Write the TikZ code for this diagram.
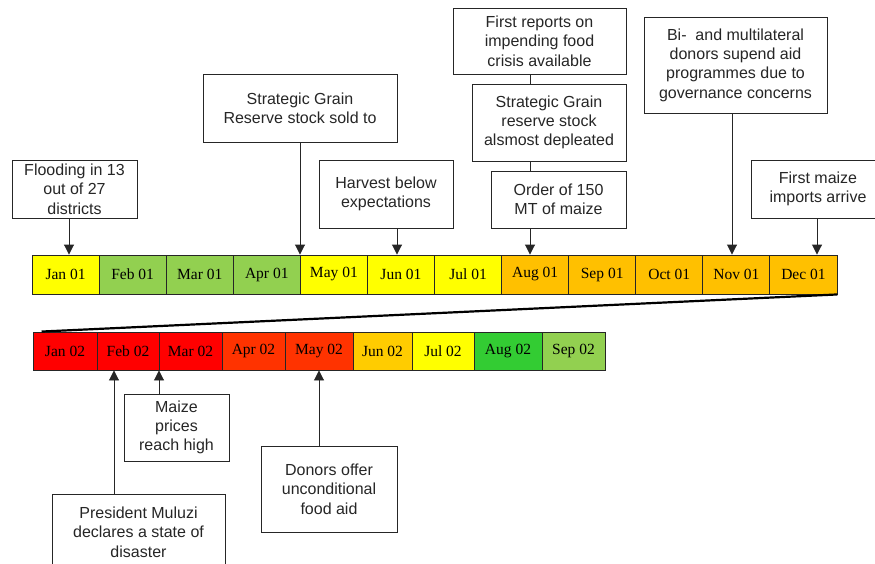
\documentclass[tikz,border=0pt]{standalone}
\usepackage{fontspec}
\setmainfont{Liberation Sans}
\newfontfamily\monthfont{Liberation Serif}
\usetikzlibrary{arrows.meta}
\definecolor{cyel}{HTML}{FFFF00}
\definecolor{cgrn}{HTML}{92D050}
\definecolor{corg}{HTML}{FFC000}
\definecolor{cred}{HTML}{FF0000}
\definecolor{cred2}{HTML}{FF3300}
\definecolor{cjun}{HTML}{FFCC00}
\definecolor{cgrn2}{HTML}{33CC33}
\tikzset{
  evbox/.style={draw=black!85, line width=0.9pt, fill=white, align=center, inner sep=0pt,
    font=\fontsize{16}{19.3}\selectfont, text=black!85},
  cell/.style={draw=black!85, line width=0.9pt, inner sep=0pt, font=\monthfont\fontsize{15.5}{16}\selectfont},
  arr/.style={draw=black!85, line width=0.9pt, -{Triangle[length=10pt,width=10pt]}},
  conn/.style={draw=black!85, line width=0.9pt},
}
\begin{document}
\begin{tikzpicture}[x=1pt,y=-1pt]
\clip (0,0) rectangle (875,564);
\fill[white] (0,0) rectangle (875,564);
% top row
\foreach \n/\lab/\col [count=\i from 0] in {jana/Jan 01/cyel, feba/Feb 01/cgrn, mara/Mar 01/cgrn, apra/Apr 01/cgrn, maya/May 01/cyel, juna/Jun 01/cyel, jula/Jul 01/cyel, auga/Aug 01/corg, sepa/Sep 01/corg, octa/Oct 01/corg, nova/Nov 01/corg, deca/Dec 01/corg}{
  \node[cell, fill=\col, minimum width=67.08pt, minimum height=39pt] (\n) at ({32+67.08*\i+33.54},274.5) {\lab};
}
% bottom row
\foreach \n/\lab/\col/\xa/\xb in {janb/Jan 02/cred/33/97, febb/Feb 02/cred/97/159, marb/Mar 02/cred/159/222, aprb/Apr 02/cred2/222/285, mayb/May 02/cred2/285/353, junb/Jun 02/cjun/353/412, julb/Jul 02/cyel/412/474, augb/Aug 02/cgrn2/474/542, sepb/Sep 02/cgrn/542/605}{
  \node[cell, fill=\col, minimum width={(\xb-\xa)*1pt}, minimum height=38pt] (\n) at ({(\xa+\xb)/2},351) {\lab};
}
% link between rows
\draw[black, line width=2.2pt] (deca.south east) -- ([xshift=9pt]janb.north west);
% top event boxes
\node[evbox, minimum width=125pt, minimum height=58pt] (flood) at (74.5,189) {Flooding in 13\\out of 27\\districts};
\node[evbox, minimum width=194pt, minimum height=68pt] (sgr) at (300,108) {Strategic Grain\\Reserve stock sold to};
\node[evbox, minimum width=134pt, minimum height=68pt] (harv) at (386,194) {Harvest below\\expectations};
\node[evbox, minimum width=173pt, minimum height=66pt] (rep) at (539.5,41) {First reports on\\impending food\\crisis available};
\node[evbox, minimum width=154pt, minimum height=77pt] (depl) at (549,122.5) {Strategic Grain\\reserve stock\\alsmost depleated};
\node[evbox, minimum width=135pt, minimum height=57pt] (order) at (558.5,199.5) {Order of 150\\MT of maize};
\node[evbox, minimum width=183pt, minimum height=96pt] (bi) at (735.5,65) {Bi-\ \ and multilateral\\donors supend aid\\programmes due to\\governance concerns};
\node[evbox, minimum width=134pt, minimum height=58pt] (imp) at (818,189) {First maize\\imports arrive};
% bottom event boxes
\node[evbox, minimum width=105pt, minimum height=67pt] (price) at (176.5,427.5) {Maize\\prices\\reach high};
\node[evbox, minimum width=173pt, minimum height=76pt] (mul) at (138.5,532) {President Muluzi\\declares a state of\\disaster};
\node[evbox, minimum width=136pt, minimum height=86pt] (don) at (329,489) {Donors offer\\unconditional\\food aid};
% arrow x positions
\coordinate (xf) at (69,0);
\coordinate (xh) at (397,0);
\coordinate (xo) at (530,0);
\coordinate (xb) at (732,0);
\coordinate (xi) at (817,0);
\coordinate (xm) at (114,0);
\coordinate (xp) at (159,0);
\coordinate (xd) at (319,0);
% top arrows
\draw[arr] (flood.south -| xf) -- (jana.north -| xf);
\draw[arr] (sgr.south) -- (sgr.south |- apra.north);
\draw[arr] (harv.south -| xh) -- (juna.north -| xh);
\draw[conn] (rep.south -| xo) -- (depl.north -| xo);
\draw[conn] (depl.south -| xo) -- (order.north -| xo);
\draw[arr] (order.south -| xo) -- (auga.north -| xo);
\draw[arr] (bi.south -| xb) -- (nova.north -| xb);
\draw[arr] (imp.south -| xi) -- (deca.north -| xi);
% bottom arrows
\draw[arr] (mul.north -| xm) -- (febb.south -| xm);
\draw[arr] (price.north -| xp) -- (febb.south -| xp);
\draw[arr] (don.north -| xd) -- (mayb.south -| xd);
\end{tikzpicture}
\end{document}
